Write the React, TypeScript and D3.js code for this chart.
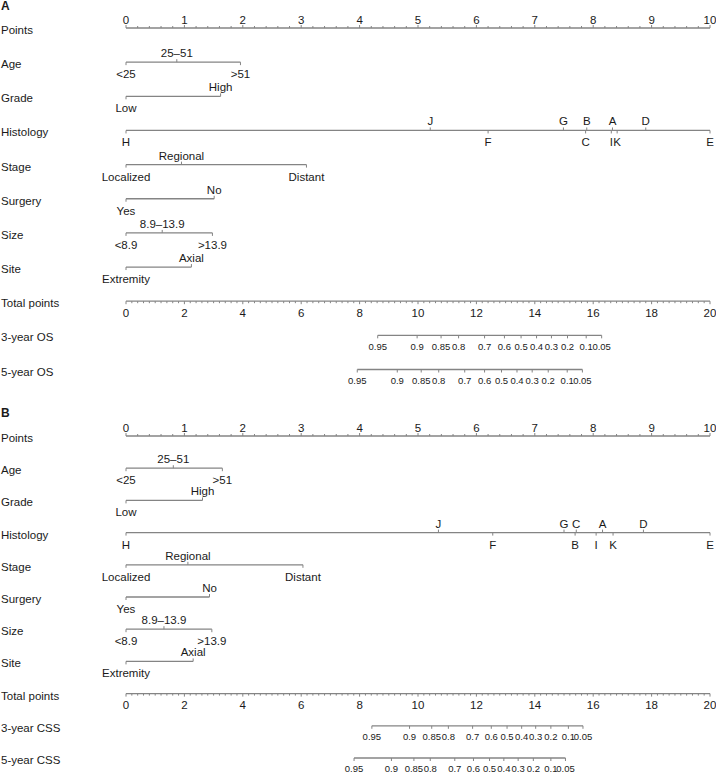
import React from "react";
import * as d3 from "d3";

// ---------- data ----------
const variableNames = ["Age", "Grade", "Histology", "Stage", "Surgery", "Size", "Site"];

const ageLevels = ["<25", "25–51", ">51"];
const gradeLevels = ["Low", "High"];
const histologyLevels = ["H", "J", "F", "G", "B", "C", "A", "I", "K", "D", "E"];
const stageLevels = ["Localized", "Regional", "Distant"];
const surgeryLevels = ["Yes", "No"];
const sizeLevels = ["<8.9", "8.9–13.9", ">13.9"];
const siteLevels = ["Extremity", "Axial"];

// Panel A (OS) points per level
const agePointsA = [0, 0.87, 1.96];
const gradePointsA = [0, 1.62];
const histologyPointsA = [0, 5.21, 6.2, 7.49, 7.89, 7.87, 8.33, 8.31, 8.41, 8.9, 10];
const stagePointsA = [0, 0.95, 3.09];
const surgeryPointsA = [0, 1.51];
const sizePointsA = [0, 0.62, 1.48];
const sitePointsA = [0, 1.12];

// Panel B (CSS) points per level
const agePointsB = [0, 0.81, 1.65];
const gradePointsB = [0, 1.31];
const histologyPointsB = [0, 5.35, 6.28, 7.5, 7.69, 7.71, 8.16, 8.05, 8.34, 8.86, 10];
const stagePointsB = [0, 1.06, 3.03];
const surgeryPointsB = [0, 1.43];
const sizePointsB = [0, 0.65, 1.47];
const sitePointsB = [0, 1.15];

const pointsTicks = [0, 1, 2, 3, 4, 5, 6, 7, 8, 9, 10];
const totalTicks = [0, 2, 4, 6, 8, 10, 12, 14, 16, 18, 20];

const survivalLabels = ["0.95", "0.9", "0.85", "0.8", "0.7", "0.6", "0.5", "0.4", "0.3", "0.2", "0.1", "0.05"];
const os3Points = [8.62, 9.97, 10.79, 11.39, 12.28, 12.96, 13.53, 14.06, 14.57, 15.12, 15.76, 16.29];
const os5Points = [7.92, 9.29, 10.11, 10.71, 11.6, 12.28, 12.86, 13.39, 13.91, 14.46, 15.11, 15.63];
const css3Points = [8.42, 9.71, 10.47, 11.04, 11.87, 12.51, 13.05, 13.55, 14.03, 14.55, 15.15, 15.65];
const css5Points = [7.81, 9.09, 9.86, 10.42, 11.26, 11.9, 12.45, 12.94, 13.43, 13.95, 14.55, 15.05];

// ---------- layout ----------
const W = 716;
const H = 774;
const FONT = "'Liberation Sans', Arial, sans-serif";
const TEXT = "#1a1a1a";
const LINE = "#848484";
const FS = 11.5;
const FS_SMALL = 9.5;

const x = d3.scaleLinear().domain([0, 10]).range([126, 710]);
const xt = d3.scaleLinear().domain([0, 20]).range([126, 710]);

type Panel = {
  letter: string;
  letterY: number;
  top: number;
  gap: number;
  levels: string[][];
  points: number[][];
  survNames: string[];
  survPoints: number[][];
};

const levelsAll = [ageLevels, gradeLevels, histologyLevels, stageLevels, surgeryLevels, sizeLevels, siteLevels];

const panels: Panel[] = [
  {
    letter: "A",
    letterY: 10,
    top: 28,
    gap: 34.15,
    levels: levelsAll,
    points: [agePointsA, gradePointsA, histologyPointsA, stagePointsA, surgeryPointsA, sizePointsA, sitePointsA],
    survNames: ["3-year OS", "5-year OS"],
    survPoints: [os3Points, os5Points],
  },
  {
    letter: "B",
    letterY: 417,
    top: 436,
    gap: 32.2,
    levels: levelsAll,
    points: [agePointsB, gradePointsB, histologyPointsB, stagePointsB, surgeryPointsB, sizePointsB, sitePointsB],
    survNames: ["3-year CSS", "5-year CSS"],
    survPoints: [css3Points, css5Points],
  },
];

function RowLabel({ y, text }: { y: number; text: string }) {
  return (
    <text x={1} y={y + 2} dy="0.35em" fontSize={FS} fill={TEXT} fontFamily={FONT}>
      {text}
    </text>
  );
}

function PanelView({ p }: { p: Panel }) {
  const rowY = (i: number) => p.top + p.gap * i;
  const els: React.ReactNode[] = [];

  els.push(
    <text key="letter" x={1} y={p.letterY} fontSize={12} fontWeight="bold" fill={TEXT} fontFamily={FONT}>
      {p.letter}
    </text>
  );

  // Points axis
  const y0 = rowY(0);
  els.push(<RowLabel key="pl" y={y0} text="Points" />);
  els.push(<line key="pline" x1={x(0)} x2={x(10)} y1={y0} y2={y0} stroke={LINE} strokeWidth={1.3} />);
  x.ticks(40).forEach((t, i) => {
    const major = Math.abs(t - Math.round(t)) < 1e-6;
    els.push(
      <line key={"pt" + i} x1={x(t)} x2={x(t)} y1={y0} y2={y0 - (major ? 3 : 2)} stroke={LINE} strokeWidth={1} />
    );
  });
  pointsTicks.forEach((t, i) =>
    els.push(
      <text key={"ptl" + i} x={x(t)} y={y0 - 8.5} dy="0.35em" textAnchor="middle" fontSize={FS} fill={TEXT} fontFamily={FONT}>
        {t}
      </text>
    )
  );

  // variables
  variableNames.forEach((name, vi) => {
    const y = rowY(vi + 1);
    const lv = p.levels[vi];
    const pts = p.points[vi];
    els.push(<RowLabel key={"vl" + vi} y={y} text={name} />);
    const ext = d3.extent(pts) as [number, number];
    els.push(<line key={"vline" + vi} x1={x(ext[0])} x2={x(ext[1])} y1={y} y2={y} stroke={LINE} strokeWidth={1.3} />);
    const order = d3.range(pts.length).sort((a, b) => pts[a] - pts[b]);
    order.forEach((idx, rank) => {
      const below = rank % 2 === 0;
      const px = x(pts[idx]);
      els.push(
        <line key={"vt" + vi + "_" + idx} x1={px} x2={px} y1={y} y2={below ? y + 3 : y - 3} stroke={LINE} strokeWidth={1} />
      );
      els.push(
        <text
          key={"vtl" + vi + "_" + idx}
          x={px}
          y={below ? y + 12 : y - 9}
          dy="0.35em"
          textAnchor="middle"
          fontSize={FS}
          fill={TEXT}
          fontFamily={FONT}
        >
          {lv[idx]}
        </text>
      );
    });
  });

  // Total points
  const yt = rowY(8);
  els.push(<RowLabel key="tl" y={yt} text="Total points" />);
  els.push(<line key="tline" x1={xt(0)} x2={xt(20)} y1={yt} y2={yt} stroke={LINE} strokeWidth={1.3} />);
  xt.ticks(80).forEach((t, i) => {
    const major = Math.abs(t / 2 - Math.round(t / 2)) < 1e-6;
    els.push(
      <line key={"tt" + i} x1={xt(t)} x2={xt(t)} y1={yt} y2={yt + (major ? 3 : 2)} stroke={LINE} strokeWidth={1} />
    );
  });
  totalTicks.forEach((t, i) =>
    els.push(
      <text key={"ttl" + i} x={xt(t)} y={yt + 11.5} dy="0.35em" textAnchor="middle" fontSize={FS} fill={TEXT} fontFamily={FONT}>
        {t}
      </text>
    )
  );

  // survival axes
  p.survNames.forEach((name, si) => {
    const y = rowY(9 + si);
    const sp = p.survPoints[si];
    els.push(<RowLabel key={"sl" + si} y={y} text={name} />);
    els.push(
      <line key={"sline" + si} x1={xt(sp[0])} x2={xt(sp[sp.length - 1])} y1={y} y2={y} stroke={LINE} strokeWidth={1.3} />
    );
    sp.forEach((v, i) => {
      els.push(<line key={"st" + si + "_" + i} x1={xt(v)} x2={xt(v)} y1={y} y2={y + 3} stroke={LINE} strokeWidth={1} />);
      els.push(
        <text
          key={"stl" + si + "_" + i}
          x={xt(v)}
          y={y + 11}
          dy="0.35em"
          textAnchor="middle"
          fontSize={FS_SMALL}
          fill={TEXT}
          fontFamily={FONT}
        >
          {survivalLabels[i]}
        </text>
      );
    });
  });

  return <g>{els}</g>;
}

export default function App() {
  return (
    <svg
      width={W}
      height={H}
      viewBox={`0 0 ${W} ${H}`}
      style={{ position: "absolute", left: 0, top: 0, background: "#fff" }}
    >
      <rect x={0} y={0} width={W} height={H} fill="#fff" />
      {panels.map((p) => (
        <PanelView key={p.letter} p={p} />
      ))}
    </svg>
  );
}
